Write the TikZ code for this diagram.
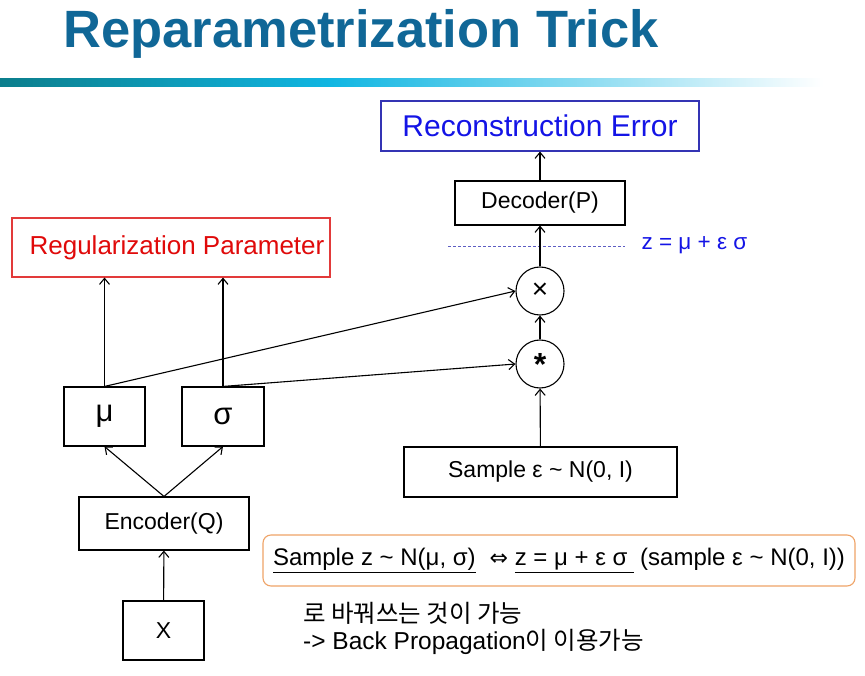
\documentclass[tikz,border=0pt]{standalone}
\usepackage{fontspec}
\setmainfont{Liberation Sans}
\newfontfamily\krfont{Noto Sans CJK KR}
\newfontfamily\symfont{DejaVu Sans}
\usetikzlibrary{arrows.meta}

\definecolor{titleblue}{HTML}{106797}
\definecolor{barteal}{HTML}{0B7E8C}
\definecolor{barcyan}{HTML}{10B6E2}
\definecolor{reconblue}{HTML}{3434B4}
\definecolor{textblue}{HTML}{1414E6}
\definecolor{regred}{HTML}{E23A3A}
\definecolor{textred}{HTML}{E00A0A}
\definecolor{noteorange}{HTML}{EFA468}

\newcommand{\px}[1]{\fontsize{#1}{#1}\selectfont}

\tikzset{
  box/.style={draw, line width=1.1pt, inner sep=0pt, font=\px{23}},
  op/.style={draw, circle, line width=1.1pt, minimum size=48pt, inner sep=0pt},
  conn/.style={-{Straight Barb[length=6pt,width=10pt]}, line width=1.1pt},
}

\begin{document}
\begin{tikzpicture}[x=1pt,y=-1pt]
\useasboundingbox (0,0) rectangle (865,676);
\fill[white] (0,0) rectangle (865,676);

% title and bar
\node[anchor=base west, text=titleblue, font=\bfseries\px{52.5}] (title) at (60,48) {Reparametrization Trick};
\shade[left color=barteal, right color=barcyan] (0,79) rectangle (330,87);
\shade[left color=barcyan, right color=white] (330,79) rectangle (823,87);

% decoder side
\node[box, draw=reconblue, text=textblue, font=\px{30}, minimum width=318pt, minimum height=50pt] (recon) at (540,126) {Reconstruction Error};
\node[box, minimum width=170pt, minimum height=44pt] (dec) at (540,203) {Decoder(P)};
\node[op, font=\px{28}] (times) at (540,291) {×};
\node[op, font=\px{32}] (star) at (540,364) {\raisebox{-7pt}{\bfseries *}};
\node[box, minimum width=273pt, minimum height=50pt] (sample) at (540.5,472) {Sample ε \textasciitilde{} N(0, I)};

\coordinate (zl) at (448,246);
\coordinate (zr) at (625,246);
\draw[reconblue!80, dashed, line width=0.7pt, dash pattern=on 3pt off 2pt] (zl) -- (zr);
\node[anchor=west, text=textblue, font=\px{22.5}] (zlab) at (638,245) {z = μ + ε σ};

% encoder side
\node[box, draw=regred, text=textred, font=\px{26}, minimum width=318pt, minimum height=59pt] (reg) at (171,247.5) {\hspace{12pt}Regularization Parameter};
\node[box, font=\px{31}, minimum width=81pt, minimum height=59pt] (mu) at (104.5,416.5) {μ};
\node[box, font=\px{31}, minimum width=82pt, minimum height=59pt] (sigma) at (223,416.5) {σ};
\node[box, minimum width=170pt, minimum height=53pt] (enc) at (164,523.5) {Encoder(Q)};
\node[box, minimum width=81pt, minimum height=59pt] (xin) at (163.5,630.5) {X};

% note
\node[draw=noteorange, line width=1.1pt, rounded corners=8pt, minimum width=592pt, minimum height=51pt, inner sep=0pt, font=\px{24}] (note) at (559,560.5)
  {\underline{Sample z \textasciitilde{} N(μ, σ)}\hspace{14pt}{\symfont\px{22}⇔} \underline{z = μ + ε σ\hspace{6pt}} (sample ε \textasciitilde{} N(0, I))};
\node[anchor=north west, align=left, font=\px{24.5}, inner sep=0pt] (remark) at (303,602)
  {{\krfont 로 바꿔쓰는 것이 가능}\\[3pt] -> Back Propagation{\krfont 이 이용가능}};

% connectors
\draw[conn] (dec) -- (recon);
\draw[conn] (times) -- (dec);
\draw[conn] (star) -- (times);
\draw[conn] (sample) -- (star);
\draw[conn] (mu.north) -- (mu.north |- reg.south);
\draw[conn] (sigma.north) -- (sigma.north |- reg.south);
\draw[conn] (mu.north) -- (times.west);
\draw[conn] (sigma.north) -- (star.west);
\draw[conn] (enc.north) -- (mu.south);
\draw[conn] (enc.north) -- (sigma.south);
\draw[conn] (xin) -- (enc);
\end{tikzpicture}
\end{document}
